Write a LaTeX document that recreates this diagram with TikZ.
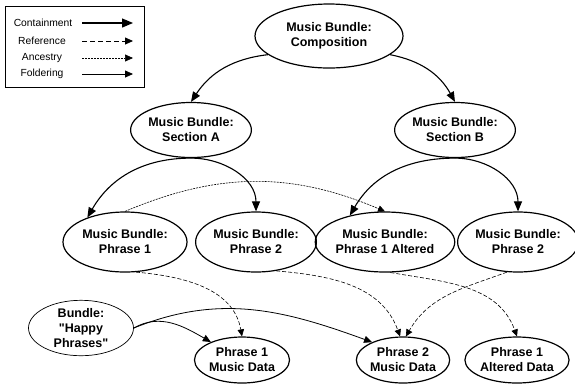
\documentclass[tikz,border=0pt]{standalone}
\usepackage{fontspec}
\setmainfont{Liberation Sans}[Ligatures=TeXOff]
\usetikzlibrary{arrows.meta, positioning, shapes.geometric}

\begin{document}
\begin{tikzpicture}[x=1pt, y=-1pt,
    bundle/.style = {ellipse, draw, line width=1.2pt, inner sep=0pt, align=center,
                     font=\bfseries\fontsize{12.5}{15}\selectfont},
    plainbundle/.style = {bundle, line width=0.7pt},
    key/.style = {font=\fontsize{10.3}{12}\selectfont},
    containment/.style = {line width=1.1pt, -{Triangle[length=10pt,width=8pt]}},
    reference/.style = {line width=0.6pt, dash pattern=on 4pt off 2pt, -{Triangle[length=7pt,width=6.5pt]}},
    ancestry/.style = {line width=0.6pt, dash pattern=on 2pt off 1pt, -{Triangle[length=7pt,width=6.5pt]}},
    foldering/.style = {line width=0.8pt, -{Triangle[length=8pt,width=7pt]}}]
    \useasboundingbox (0,0) rectangle (575,384);

    % legend
    \draw[line width=0.6pt] (5,6) rectangle (144,87);
    \node (keyC) [key] at (43,23) {Containment};
    \node (keyR) [key] at (42,41) {Reference};
    \node (keyA) [key] at (42,58) {Ancestry};
    \node (keyF) [key] at (42,74) {Foldering};
    \coordinate (keyCa) at (82,23);  \coordinate (keyCb) at (133,23);
    \coordinate (keyRa) at (82,41);  \coordinate (keyRb) at (133,41);
    \coordinate (keyAa) at (82,58);  \coordinate (keyAb) at (133,58);
    \coordinate (keyFa) at (82,74);  \coordinate (keyFb) at (133,74);
    \draw[line width=1.3pt, -{Triangle[length=11pt,width=9pt]}] (keyCa) -- (keyCb);
    \draw[line width=0.8pt, dash pattern=on 5pt off 3pt, -{Triangle[length=8pt,width=7pt]}] (keyRa) -- (keyRb);
    \draw[line width=0.7pt, dash pattern=on 2pt off 1pt, -{Triangle[length=8pt,width=7pt]}] (keyAa) -- (keyAb);
    \draw[line width=0.8pt, -{Triangle[length=8pt,width=7pt]}] (keyFa) -- (keyFb);

    % bundles
    \node (comp)   [bundle, minimum width=148pt, minimum height=64pt] at (329,36)  {Music Bundle:\\Composition};
    \node (secA)   [bundle, minimum width=118pt, minimum height=55pt] at (191,130) {Music Bundle:\\Section A};
    \node (secB)   [bundle, minimum width=116pt, minimum height=55pt] at (455,130) {Music Bundle:\\Section B};
    \node (phrA)   [bundle, minimum width=124pt, minimum height=60pt] at (125,242) {Music Bundle:\\Phrase 1};
    \node (phrB)   [bundle, minimum width=116pt, minimum height=60pt] at (256,242) {Music Bundle:\\Phrase 2};
    \node (phrAlt) [bundle, minimum width=114pt, minimum height=60pt] at (385,242) {Music Bundle:\\Phrase 1 Altered};
    \node (phrB2)  [bundle, minimum width=112pt, minimum height=60pt] at (518,242) {Music Bundle:\\Phrase 2};
    \node (happy)  [plainbundle, minimum width=105pt, minimum height=53pt] at (81,328) {Bundle:\\"Happy\\Phrases"};

    % data
    \node (dataA)   [bundle, minimum width=95pt, minimum height=46pt] at (242,360) {Phrase 1\\Music Data};
    \node (dataB)   [bundle, minimum width=90pt, minimum height=46pt] at (403,360) {Phrase 2\\Music Data};
    \node (dataAlt) [bundle, minimum width=92pt, minimum height=46pt] at (517,360) {Phrase 1\\Altered Data};

    \path [containment]
        (comp.197)   edge [bend right=25]      (secA.north)
        (comp.-17)   edge [bend left=25]       (secB.north)
        (secA.south) edge [out=180, in=60]     (phrA.147)
        (secA.south) edge [out=0, in=90]       (phrB.north)
        (secB.south) edge [out=180, in=60]     (phrAlt.143)
        (secB.south) edge [out=0, in=90]       (phrB2.north);

    \path [ancestry]
        (phrA.north) edge [out=23, in=157]     (phrAlt.north);

    \path [reference]
        (phrA.-70)   edge [out=-5, in=100]     (dataA.north)
        (phrB.-55)   edge [out=-5, in=110]     (dataB.97)
        (phrB2.-110) edge [out=200, in=60]     (dataB.83)
        (phrAlt.-80) edge [out=-10, in=110]    (dataAlt.north);

    \path [foldering]
        (happy.east) edge [out=30, in=150]     (dataA.150)
        (happy.east) edge [out=22, in=160]     (dataB.150);

\end{tikzpicture}
\end{document}
